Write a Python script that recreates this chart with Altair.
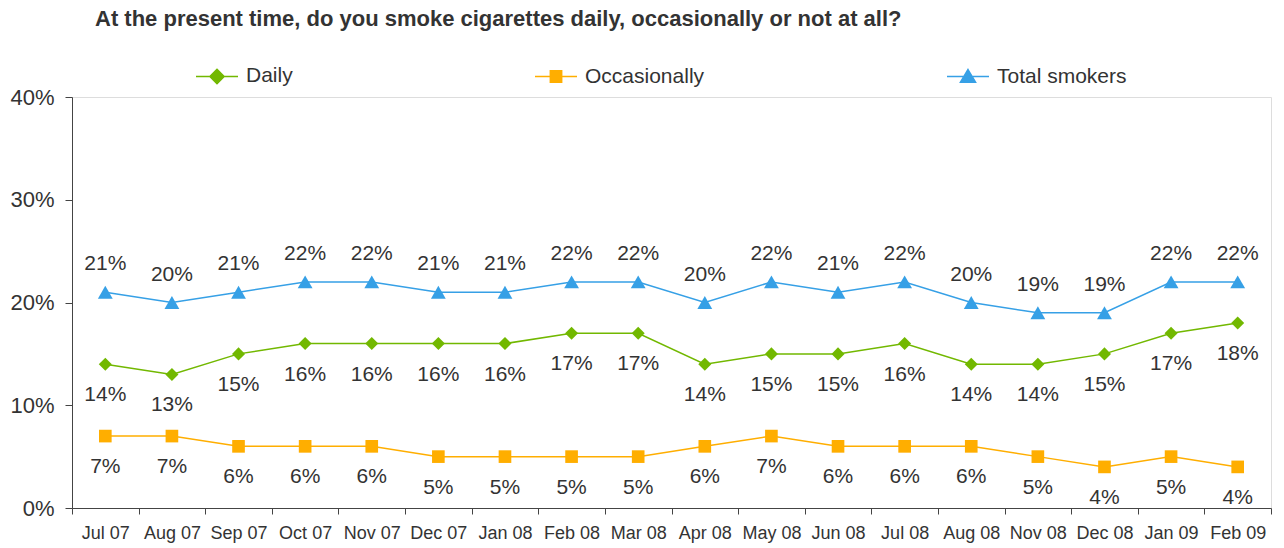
import altair as alt
import pandas as pd

months = ["Jul 07", "Aug 07", "Sep 07", "Oct 07", "Nov 07", "Dec 07", "Jan 08", "Feb 08", "Mar 08",
          "Apr 08", "May 08", "Jun 08", "Jul 08", "Aug 08", "Nov 08", "Dec 08", "Jan 09", "Feb 09"]
daily = [14, 13, 15, 16, 16, 16, 16, 17, 17, 14, 15, 15, 16, 14, 14, 15, 17, 18]
occasionally = [7, 7, 6, 6, 6, 5, 5, 5, 5, 6, 7, 6, 6, 6, 5, 4, 5, 4]
total = [21, 20, 21, 22, 22, 21, 21, 22, 22, 20, 22, 21, 22, 20, 19, 19, 22, 22]
series_names = ["Daily", "Occasionally", "Total smokers"]
colors = ["#72B800", "#FFAE00", "#36A0E6"]
shapes = ["diamond", "square", "triangle-up"]
marker_sizes = [170, 160, 220]
legend_shapes = [
    "M-1,0L1,0M-0.34,0L0,-0.34L0.34,0L0,0.34Z",
    "M-1,0L1,0M-0.27,-0.27L0.27,-0.27L0.27,0.27L-0.27,0.27Z",
    "M-1,0L1,0M0,-0.33L0.36,0.27L-0.36,0.27Z",
]

rows = []
for s, vals in zip(series_names, [daily, occasionally, total]):
    for m, v in zip(months, vals):
        rows.append({"month": m, "series": s, "value": v / 100, "label": f"{v}%"})
df = pd.DataFrame(rows)

xenc = alt.X("month:N", sort=months,
             scale=alt.Scale(type="band", paddingInner=0, paddingOuter=0),
             axis=alt.Axis(title=None, labelAngle=0, labelFontSize=18, labelColor="#333333",
                           tickBand="extent", tickSize=6, labelPadding=10,
                           domainColor="#444444", tickColor="#444444"))
yenc = alt.Y("value:Q", scale=alt.Scale(domain=[0, 0.4]),
             axis=alt.Axis(title=None, format=".0%", values=[0, 0.1, 0.2, 0.3, 0.4],
                           grid=False, labelFontSize=22, labelColor="#333333",
                           tickSize=7, labelPadding=11,
                           domainColor="#444444", tickColor="#444444"))

base = alt.Chart(df)
layers = []
offsets = {"Daily": 31, "Occasionally": 31, "Total smokers": -28}
for s, col, shp, sz in zip(series_names, colors, shapes, marker_sizes):
    sub = base.transform_filter(alt.datum.series == s)
    layers.append(sub.mark_line(strokeWidth=1.5, color=col).encode(x=xenc, y=yenc))
    layers.append(sub.mark_point(filled=True, size=sz, shape=shp, color=col, opacity=1).encode(x=xenc, y=yenc))
    layers.append(sub.mark_text(fontSize=21, color="#333333", dy=offsets[s], baseline="middle").encode(
        x=xenc, y=yenc, text="label:N"))

leg = alt.Legend(orient="none", legendX=123, legendY=-43, direction="horizontal", columns=3,
                 columnPadding=239, symbolSize=1764, symbolStrokeWidth=1.5, labelFontSize=21,
                 labelColor="#333333", labelOffset=7, title=None, symbolOpacity=1)
legend_layer = base.mark_point(filled=False, opacity=0).encode(
    x=xenc, y=yenc,
    fill=alt.Fill("series:N", scale=alt.Scale(domain=series_names, range=colors), legend=leg),
    stroke=alt.Stroke("series:N", scale=alt.Scale(domain=series_names, range=colors), legend=leg),
    shape=alt.Shape("series:N", scale=alt.Scale(domain=series_names, range=legend_shapes), legend=leg),
)
layers.append(legend_layer)

chart = alt.layer(*layers).properties(
    width=1199, height=411,
    autosize=alt.AutoSizeParams(type="none"),
    padding={"left": 72, "top": 97, "right": 13, "bottom": 40},
    title=alt.TitleParams("At the present time, do you smoke cigarettes daily, occasionally or not at all?",
                          anchor="start", frame="group", dx=23, offset=23, fontSize=22,
                          fontWeight="bold", color="#333333", font="Liberation Sans"),
).configure_view(stroke=None).configure(font="Liberation Sans")

chart.save("out.html", embed_options={"renderer": "svg", "actions": False})
